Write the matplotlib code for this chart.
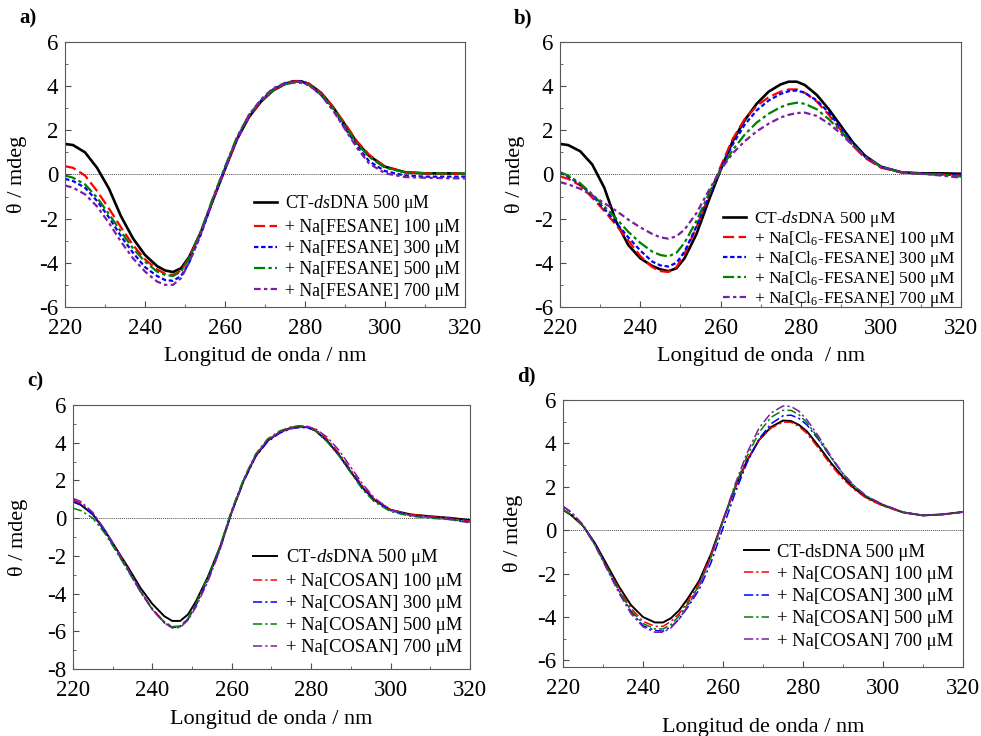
import numpy as np
import matplotlib
matplotlib.use("Agg")
import matplotlib.pyplot as plt
from matplotlib.ticker import MultipleLocator

plt.rcParams['font.family'] = ['Liberation Serif', 'DejaVu Serif']
plt.rcParams['mathtext.fontset'] = 'custom'
plt.rcParams['mathtext.rm'] = 'Liberation Serif'
plt.rcParams['mathtext.it'] = 'Liberation Serif:italic'
plt.rcParams['axes.unicode_minus'] = False

# wavelength grid (nm)
wl = [220, 222, 225, 228, 231, 234, 237, 240, 243, 245, 247, 249, 251, 254, 257, 260, 263,
      266, 269, 272, 275, 277, 279, 281, 284, 287, 290, 293, 296, 300, 305, 310, 315, 320]

# ---- panel a: Na[FESANE]
a_dna = [1.38, 1.33, 1.0, 0.3, -0.65, -1.9, -2.9, -3.65, -4.15, -4.35, -4.42, -4.25, -3.75, -2.6, -1.15,
         0.25, 1.6, 2.6, 3.3, 3.8, 4.1, 4.22, 4.22, 4.1, 3.7, 3.05, 2.25, 1.45, 0.85, 0.35, 0.1, 0.05, 0.05, 0.03]
a_100 = [0.37, 0.3, -0.05, -0.75, -1.55, -2.4, -3.2, -3.85, -4.3, -4.5, -4.55, -4.35, -3.8, -2.6, -1.15,
         0.25, 1.6, 2.6, 3.3, 3.8, 4.1, 4.22, 4.22, 4.1, 3.7, 3.05, 2.3, 1.5, 0.9, 0.35, 0.1, 0.05, 0.04, 0.02]
a_300 = [-0.2, -0.3, -0.6, -1.2, -1.95, -2.8, -3.55, -4.2, -4.6, -4.78, -4.82, -4.6, -4.0, -2.7, -1.15,
         0.25, 1.6, 2.65, 3.35, 3.85, 4.12, 4.2, 4.2, 4.05, 3.6, 2.95, 2.1, 1.3, 0.6, 0.15, -0.05, -0.1, -0.1, -0.1]
a_500 = [-0.05, -0.15, -0.45, -1.05, -1.8, -2.6, -3.35, -3.95, -4.4, -4.55, -4.6, -4.4, -3.8, -2.55, -1.05,
         0.35, 1.7, 2.7, 3.35, 3.8, 4.08, 4.15, 4.15, 4.05, 3.65, 3.0, 2.2, 1.4, 0.8, 0.3, 0.1, 0.05, 0.05, 0.03]
a_700 = [-0.5, -0.6, -0.9, -1.45, -2.2, -3.05, -3.8, -4.4, -4.85, -5.0, -5.0, -4.7, -4.0, -2.65, -1.1,
         0.3, 1.65, 2.7, 3.4, 3.9, 4.15, 4.2, 4.2, 4.05, 3.6, 2.9, 2.05, 1.2, 0.5, 0.05, -0.12, -0.15, -0.17, -0.18]

# ---- panel b: Na[Cl6-FESANE]
b_dna = [1.38, 1.33, 1.05, 0.45, -0.6, -2.15, -3.2, -3.8, -4.15, -4.3, -4.38, -4.25, -3.8, -2.7, -1.2,
         0.2, 1.5, 2.45, 3.2, 3.75, 4.08, 4.2, 4.2, 4.05, 3.6, 2.95, 2.2, 1.45, 0.85, 0.35, 0.1, 0.05, 0.05, 0.03]
b_100 = [-0.09, -0.2, -0.5, -1.05, -1.65, -2.3, -3.0, -3.7, -4.2, -4.38, -4.42, -4.2, -3.6, -2.4, -1.0,
         0.35, 1.6, 2.5, 3.1, 3.5, 3.75, 3.85, 3.85, 3.7, 3.3, 2.7, 2.0, 1.3, 0.75, 0.3, 0.1, 0.03, 0.0, -0.05]
b_300 = [0.08, -0.1, -0.45, -0.95, -1.55, -2.2, -2.85, -3.45, -3.95, -4.12, -4.17, -4.0, -3.5, -2.35, -1.0,
         0.25, 1.35, 2.25, 2.9, 3.35, 3.65, 3.77, 3.8, 3.7, 3.35, 2.8, 2.1, 1.4, 0.8, 0.35, 0.1, 0.03, 0.0, -0.05]
b_500 = [0.1, -0.05, -0.4, -0.9, -1.45, -2.0, -2.6, -3.1, -3.5, -3.65, -3.71, -3.55, -3.1, -2.1, -0.9,
         0.2, 1.1, 1.8, 2.35, 2.75, 3.05, 3.18, 3.25, 3.2, 2.95, 2.5, 1.95, 1.35, 0.8, 0.35, 0.1, 0.03, 0.0, -0.1]
b_700 = [-0.35, -0.45, -0.65, -0.95, -1.3, -1.65, -2.05, -2.4, -2.7, -2.85, -2.91, -2.8, -2.5, -1.75, -0.75,
         0.2, 0.95, 1.5, 1.95, 2.3, 2.58, 2.7, 2.78, 2.8, 2.65, 2.3, 1.85, 1.3, 0.8, 0.35, 0.1, 0.03, -0.05, -0.15]

# ---- panel c: Na[COSAN]
c_dna = [0.88, 0.7, 0.2, -0.65, -1.65, -2.65, -3.7, -4.55, -5.2, -5.45, -5.45, -5.1, -4.4, -3.1, -1.55,
         0.35, 2.0, 3.3, 4.1, 4.55, 4.8, 4.86, 4.82, 4.65, 4.1, 3.35, 2.45, 1.6, 0.95, 0.44, 0.2, 0.1, 0.02, -0.1]
c_100 = [0.97, 0.8, 0.25, -0.65, -1.7, -2.75, -3.85, -4.8, -5.5, -5.78, -5.75, -5.35, -4.6, -3.2, -1.6,
         0.35, 2.0, 3.3, 4.1, 4.55, 4.8, 4.88, 4.87, 4.72, 4.2, 3.45, 2.55, 1.7, 1.0, 0.45, 0.2, 0.1, 0.0, -0.15]
c_300 = [0.88, 0.72, 0.2, -0.7, -1.75, -2.8, -3.9, -4.85, -5.55, -5.8, -5.75, -5.35, -4.6, -3.25, -1.65,
         0.3, 1.95, 3.25, 4.05, 4.5, 4.75, 4.8, 4.8, 4.65, 4.1, 3.35, 2.45, 1.6, 0.95, 0.4, 0.15, 0.05, -0.05, -0.2]
c_500 = [0.53, 0.4, 0.0, -0.8, -1.8, -2.85, -3.9, -4.85, -5.5, -5.75, -5.72, -5.3, -4.5, -3.1, -1.5,
         0.45, 2.1, 3.4, 4.2, 4.62, 4.85, 4.9, 4.85, 4.65, 4.05, 3.3, 2.4, 1.5, 0.85, 0.35, 0.1, 0.0, -0.08, -0.2]
c_700 = [1.05, 0.88, 0.3, -0.6, -1.65, -2.75, -3.85, -4.85, -5.55, -5.82, -5.8, -5.4, -4.7, -3.35, -1.7,
         0.3, 2.0, 3.35, 4.15, 4.55, 4.75, 4.82, 4.85, 4.75, 4.3, 3.6, 2.7, 1.8, 1.05, 0.45, 0.15, 0.05, -0.08, -0.25]

# ---- panel d: Na[COSAN]
d_dna = [0.94, 0.7, 0.2, -0.6, -1.6, -2.6, -3.45, -4.0, -4.25, -4.25, -4.05, -3.7, -3.2, -2.35, -1.1,
         0.45, 1.95, 3.2, 4.15, 4.75, 5.05, 5.03, 4.85, 4.55, 3.85, 3.1, 2.45, 1.9, 1.5, 1.15, 0.82, 0.68, 0.73, 0.84]
d_100 = [0.95, 0.72, 0.2, -0.65, -1.7, -2.7, -3.6, -4.2, -4.43, -4.43, -4.2, -3.85, -3.35, -2.45, -1.15,
         0.45, 1.95, 3.2, 4.15, 4.7, 4.98, 4.97, 4.78, 4.45, 3.75, 3.0, 2.35, 1.85, 1.45, 1.12, 0.82, 0.68, 0.72, 0.84]
d_300 = [1.1, 0.82, 0.25, -0.65, -1.75, -2.8, -3.75, -4.4, -4.62, -4.65, -4.45, -4.1, -3.6, -2.75, -1.5,
         0.1, 1.7, 3.1, 4.2, 4.9, 5.27, 5.3, 5.15, 4.85, 4.15, 3.35, 2.6, 2.0, 1.55, 1.18, 0.83, 0.68, 0.73, 0.84]
d_500 = [0.95, 0.72, 0.2, -0.7, -1.75, -2.8, -3.7, -4.3, -4.55, -4.55, -4.35, -3.95, -3.45, -2.55, -1.25,
         0.4, 2.0, 3.4, 4.5, 5.2, 5.52, 5.52, 5.32, 4.95, 4.2, 3.35, 2.6, 2.0, 1.55, 1.18, 0.83, 0.68, 0.73, 0.84]
d_700 = [1.1, 0.85, 0.25, -0.7, -1.8, -2.9, -3.85, -4.45, -4.7, -4.7, -4.5, -4.1, -3.55, -2.6, -1.25,
         0.45, 2.1, 3.55, 4.7, 5.4, 5.72, 5.7, 5.48, 5.08, 4.3, 3.4, 2.6, 2.0, 1.55, 1.18, 0.83, 0.68, 0.73, 0.84]

conc = ["100", "300", "500", "700"]
colors = ["black", "red", "blue", "green", "#7a1fa2"]
styles_thick = ["-", (0, (5, 2)), (0, (2, 1.2)), (0, (5, 1.5, 1.5, 1.5)), (0, (3, 1.5, 1.5, 1.5))]
styles_thin = ["-"] + [(0, (6, 2, 1.5, 2))] * 4

dna_it = "CT-$\\it{ds}$DNA 500 \u03bcM"
labels_a = [dna_it] + ["+ Na[FESANE] %s \u03bcM" % c for c in conc]
labels_b = [dna_it] + ["+ Na[Cl$_6$-FESANE] %s \u03bcM" % c for c in conc]
labels_c = [dna_it] + ["+ Na[COSAN] %s \u03bcM" % c for c in conc]
labels_d = ["CT-dsDNA 500 \u03bcM"] + ["+ Na[COSAN] %s \u03bcM" % c for c in conc]

fig = plt.figure(figsize=(9.81, 7.36), dpi=100)
# rect, series, labels, styles, lw, ylim, xlabel, tag, legend anchor, labelspacing, legend size, ylabel x, xlabel y
panels = [
    ([0.0663, 0.583, 0.4077, 0.360], [a_dna, a_100, a_300, a_500, a_700], labels_a, styles_thick, 1.6,
     (-6, 6), "Longitud de onda / nm", "a)", (0.455, 0.455), 0.24, 12.8, -0.095, -0.15),
    ([0.571, 0.583, 0.4088, 0.360], [b_dna, b_100, b_300, b_500, b_700], labels_b, styles_thick, 1.6,
     (-6, 6), "Longitud de onda  / nm", "b)", (0.39, 0.395), 0.0, 12.5, -0.087, -0.15),
    ([0.0744, 0.091, 0.4047, 0.3587], [c_dna, c_100, c_300, c_500, c_700], labels_c, styles_thin, 1.1,
     (-8, 6), "Longitud de onda / nm", "c)", (0.435, 0.49), 0.27, 13.4, -0.113, -0.155),
    ([0.5739, 0.0938, 0.4077, 0.3628], [d_dna, d_100, d_300, d_500, d_700], labels_d, styles_thin, 1.1,
     (-6.3, 6), "Longitud de onda / nm", "d)", (0.435, 0.49), 0.28, 13.4, -0.10, -0.19),
]

for rect, series, labels, styles, lw, ylim, xlab, tag, legpos, lspace, lsize, ylx, xly in panels:
    ax = fig.add_axes(rect)
    ax.axhline(0, color="0.3", lw=0.7, ls=(0, (1, 1)), zorder=1)
    for y, lab, col, st in zip(series, labels, colors, styles):
        ax.plot(wl, y, color=col, ls=st, lw=lw if st != "-" else lw + 0.3, label=lab)
    ax.set_xlim(220, 320)
    ax.set_ylim(*ylim)
    ax.xaxis.set_major_locator(MultipleLocator(20))
    ax.xaxis.set_minor_locator(MultipleLocator(10))
    ax.yaxis.set_major_locator(MultipleLocator(2))
    ax.yaxis.set_minor_locator(MultipleLocator(1))
    ax.tick_params(which="both", direction="in", labelsize=16.5, color="0.3")
    ax.tick_params(axis="x", which="major", pad=8)
    ax.tick_params(axis="y", which="major", pad=5)
    ax.tick_params(which="major", length=4)
    ax.tick_params(which="minor", length=2.5)
    for sp in ax.spines.values():
        sp.set_color("0.35")
    ax.set_xlabel(xlab, fontsize=16)
    ax.set_ylabel("\u03b8 / mdeg", fontsize=16)
    ax.xaxis.set_label_coords(0.5, xly)
    ax.yaxis.set_label_coords(ylx, 0.5)
    ax.legend(loc="upper left", bbox_to_anchor=legpos, frameon=False, fontsize=lsize,
              handlelength=1.3, handletextpad=0.45, labelspacing=lspace, borderaxespad=0)
    fig.text(rect[0] - 0.047, rect[1] + rect[3] + 0.032, tag, fontsize=15, fontweight="bold",
             ha="left", va="center")

fig.savefig("out.png", dpi=100)
